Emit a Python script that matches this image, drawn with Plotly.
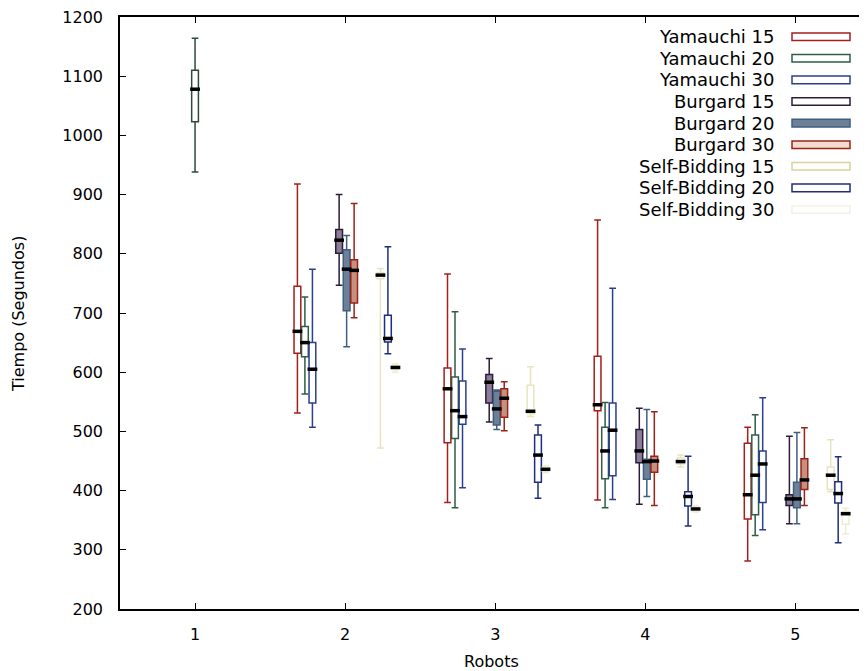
import plotly.graph_objects as go

robots = [2, 3, 4, 5]
series_names = ["Yamauchi 15", "Yamauchi 20", "Yamauchi 30",
                "Burgard 15", "Burgard 20", "Burgard 30",
                "Self-Bidding 15", "Self-Bidding 20", "Self-Bidding 30"]

# box statistics per series for robots 2..5
y15_lower = [531, 380, 384, 281]
y15_q1 = [632, 481, 535, 352]
y15_med = [669, 572, 545, 393]
y15_q3 = [745, 607, 627, 480]
y15_upper = [918, 766, 857, 507]

y20_lower = [563, 371, 371, 324]
y20_q1 = [626, 488, 420, 359]
y20_med = [650, 535, 467, 426]
y20_q3 = [677, 592, 507, 494]
y20_upper = [727, 702, 549, 528]

y30_lower = [507, 405, 385, 334]
y30_q1 = [548, 512, 425, 380]
y30_med = [605, 525, 502, 445]
y30_q3 = [650, 585, 548, 467]
y30_upper = [774, 639, 742, 557]

b15_lower = [747, 516, 377, 344]
b15_q1 = [801, 548, 447, 375]
b15_med = [823, 583, 467, 386]
b15_q3 = [841, 596, 503, 393]
b15_upper = [900, 623, 539, 492]

b20_lower = [643, 503, 390, 344]
b20_q1 = [704, 511, 419, 371]
b20_med = [774, 538, 449, 386]
b20_q3 = [807, 568, 453, 414]
b20_upper = [831, 570, 537, 498]

b30_lower = [692, 501, 375, 375]
b30_q1 = [717, 524, 431, 402]
b30_med = [772, 556, 450, 418]
b30_q3 = [790, 572, 458, 454]
b30_upper = [885, 584, 533, 506]

s15_lower = [472, 525, 440, 398]
s15_q1 = [758, 530, 445, 402]
s15_med = [764, 534, 449, 426]
s15_q3 = [768, 578, 455, 440]
s15_upper = [775, 609, 460, 486]

s20_lower = [631, 387, 340, 312]
s20_q1 = [651, 414, 374, 379]
s20_med = [657, 460, 390, 395]
s20_q3 = [696, 494, 398, 415]
s20_upper = [812, 511, 458, 457]

s30_lower = [600, 430, 364, 327]
s30_q1 = [604, 433, 366, 343]
s30_med = [608, 436, 369, 361]
s30_q3 = [611, 439, 372, 365]
s30_upper = [614, 442, 375, 370]

# single robot run
one_robot = [1]
one_lower = [938]
one_q1 = [1023]
one_med = [1078]
one_q3 = [1110]
one_upper = [1164]

y_ticks = [200, 300, 400, 500, 600, 700, 800, 900, 1000, 1100, 1200]
x_ticks = [1, 2, 3, 4, 5]

stats = [
    (y15_lower, y15_q1, y15_med, y15_q3, y15_upper),
    (y20_lower, y20_q1, y20_med, y20_q3, y20_upper),
    (y30_lower, y30_q1, y30_med, y30_q3, y30_upper),
    (b15_lower, b15_q1, b15_med, b15_q3, b15_upper),
    (b20_lower, b20_q1, b20_med, b20_q3, b20_upper),
    (b30_lower, b30_q1, b30_med, b30_q3, b30_upper),
    (s15_lower, s15_q1, s15_med, s15_q3, s15_upper),
    (s20_lower, s20_q1, s20_med, s20_q3, s20_upper),
    (s30_lower, s30_q1, s30_med, s30_q3, s30_upper),
]

line_colors = ["#a3201c", "#2e5e45", "#2a3f8f",
               "#2b1d3a", "#3e5f80", "#9b2316",
               "#e6e4bf", "#1e2d80", "#efecd4"]
fill_colors = ["white", "white", "white",
               "#8c7e98", "#6e8098", "#c4907f",
               "rgba(0,0,0,0)", "white", "rgba(0,0,0,0)"]
legend_line = ["#a3201c", "#2e5e45", "#2a3f8f",
               "#2b1d3a", "#3e5f80", "#9b2316",
               "#d6d49c", "#1e2d80", "#f4f2e4"]
legend_fill = ["white", "white", "white",
               "white", "#6e8098", "#f2dcd2",
               "white", "white", "white"]

group_off = [-0.268, 0.01, 0.285]
sub_off = [-0.05, 0.0, 0.05]
box_w = 0.045

fig = go.Figure()
med_x, med_y = [], []
for i, name in enumerate(series_names):
    off = group_off[i // 3] + sub_off[i % 3]
    xs = [r + off for r in robots]
    lo, q1, md, q3, up = stats[i]
    fig.add_trace(go.Box(
        x=xs, lowerfence=lo, q1=q1, median=md, q3=q3, upperfence=up,
        name=name, width=box_w, whiskerwidth=1,
        line=dict(color=line_colors[i], width=1.5),
        fillcolor=fill_colors[i], showlegend=False, hoverinfo="skip"))
    med_x += xs
    med_y += md

fig.add_trace(go.Box(
    x=one_robot, lowerfence=one_lower, q1=one_q1, median=one_med, q3=one_q3,
    upperfence=one_upper, width=box_w, whiskerwidth=1,
    line=dict(color="#2e4a3a", width=1.5), fillcolor="white",
    showlegend=False, hoverinfo="skip"))
med_x += one_robot
med_y += one_med

fig.add_trace(go.Scatter(
    x=med_x, y=med_y, mode="markers",
    marker=dict(symbol="line-ew", size=7, line=dict(color="black", width=3.5)),
    showlegend=False, hoverinfo="skip"))

# custom legend (text on left, sample box on right); page offset of 8px for body margin
W, H = 747.0, 592.0
shapes, annots = [], []
for i, name in enumerate(series_names):
    yc = 36.7 + i * 21.6
    py = (609 - yc) / H
    annots.append(dict(x=(776 - 120) / W, y=py, xref="paper", yref="paper",
                       text=name, showarrow=False, xanchor="right", yanchor="middle",
                       font=dict(size=18, color="black", family="DejaVu Sans")))
    shapes.append(dict(type="rect", xref="paper", yref="paper",
                       x0=(792 - 120) / W, x1=(850 - 120) / W,
                       y0=py - 3.8 / H, y1=py + 3.8 / H,
                       line=dict(color=legend_line[i], width=1.5),
                       fillcolor=legend_fill[i]))

# axis titles
annots.append(dict(x=(491 - 120) / W, y=(609 - 661) / H, xref="paper", yref="paper",
                   text="Robots", showarrow=False, xanchor="center", yanchor="middle",
                   font=dict(size=16, color="black", family="DejaVu Sans")))
annots.append(dict(x=(18 - 120) / W, y=(609 - 314) / H, xref="paper", yref="paper",
                   text="Tiempo (Segundos)", showarrow=False, textangle=-90,
                   xanchor="center", yanchor="middle",
                   font=dict(size=16, color="black", family="DejaVu Sans")))

fig.update_layout(
    width=859, height=663,
    margin=dict(l=112, r=0, t=9, b=62, autoexpand=False),
    paper_bgcolor="white", plot_bgcolor="white",
    boxmode="overlay",
    font=dict(family="DejaVu Sans", size=16, color="black"),
    shapes=shapes, annotations=annots,
    xaxis=dict(range=[0.5, 5.477], tickvals=x_ticks, ticktext=[str(v) for v in x_ticks],
               showgrid=False, zeroline=False, showline=True, linecolor="black",
               linewidth=1.5, mirror="ticks", ticks="inside", ticklen=6,
               tickcolor="black", ticklabelstandoff=10, automargin=False,
               ticklabeloverflow="allow"),
    yaxis=dict(range=[200, 1200], tickvals=y_ticks, showgrid=False, zeroline=False,
               showline=True, linecolor="black", linewidth=1.5, mirror=False,
               ticks="inside", ticklen=6, tickcolor="black", ticklabelstandoff=12,
               automargin=False, ticklabeloverflow="allow"),
)

fig.write_html("out.html")
